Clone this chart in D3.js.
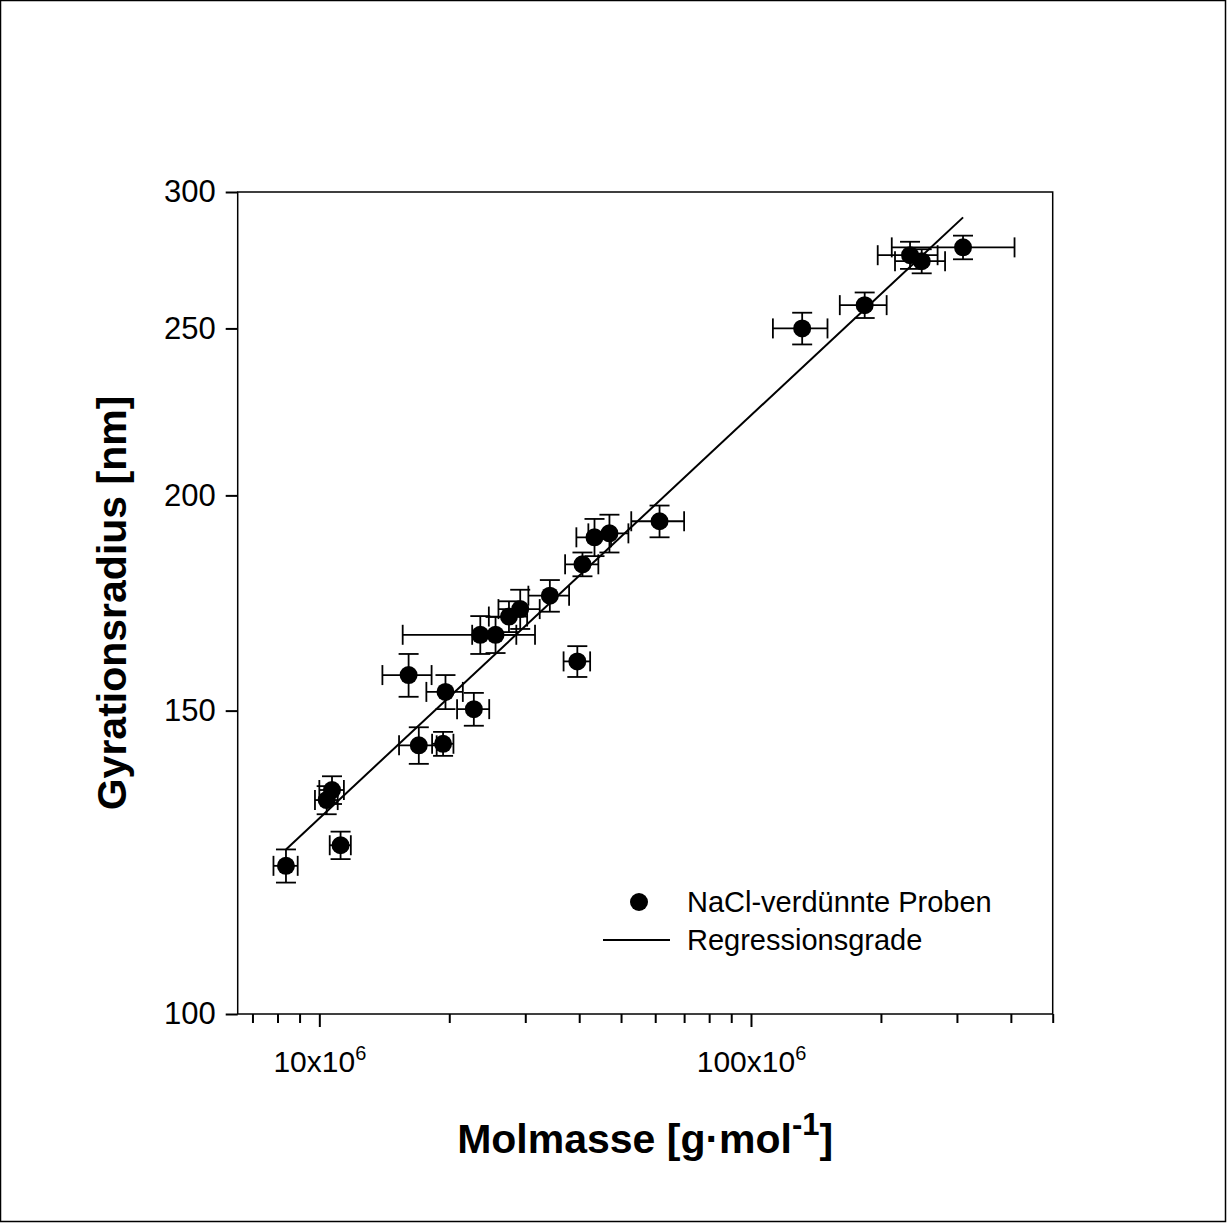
<!DOCTYPE html>
<html>
<head>
<meta charset="utf-8">
<script src="https://cdn.jsdelivr.net/npm/d3@7"></script>
<style>
  body { margin: 0; background: #fff; }
  text { font-family: Arial, "Liberation Sans", sans-serif; fill: #000; }
</style>
</head>
<body>
<div class="canvas"></div>
<script>
// values
const molmasse = [8.37e6, 11.2e6, 10.4e6, 10.7e6, 17.0e6, 19.35e6, 16.1e6, 19.6e6, 22.8e6, 23.6e6, 25.6e6, 27.5e6,
  29.2e6, 34.2e6, 39.6e6, 40.7e6, 43.4e6, 47.0e6, 61.4e6, 131.4e6, 183.4e6, 233.6e6, 248.6e6, 309.9e6];
const molmasseErr = [0.54e6, 0.63e6, 0.63e6, 0.7e6, 1.7e6, 1.1e6, 2.1e6, 1.9e6, 1.95e6, 8.0e6, 3.0e6, 2.8e6,
  3.2e6, 3.7e6, 2.8e6, 3.6e6, 4.0e6, 5.0e6, 8.6e6, 19e6, 22.8e6, 37e6, 33e6, 98e6];
const radius = [121.9, 125.3, 133.1, 134.9, 143.2, 143.5, 157.3, 153.8, 150.3, 166.0, 166.0, 170.1,
  171.8, 174.9, 160.2, 182.4, 189.1, 190.1, 193.2, 250.0, 257.9, 275.7, 273.5, 278.6];
const radiusErr = [2.7, 2.3, 2.5, 2.5, 3.5, 2.3, 4.5, 3.5, 3.3, 4.2, 4.0, 3.5,
  4.5, 3.7, 3.3, 2.9, 4.7, 4.8, 4.1, 5.3, 4.4, 5.0, 4.4, 4.4];

// regression line end points
const fitM = [8.37e6, 310e6];
const fitR = [124.6, 290];

const yTicks = [100, 150, 200, 250, 300];
const xMajor = [1e7, 1e8];
const xMajorLabels = ["10x10", "100x10"];
const xMinor = [7e6, 8e6, 9e6, 2e7, 3e7, 4e7, 5e7, 6e7, 7e7, 8e7, 9e7, 2e8, 3e8, 4e8, 5e8];

const legendLabels = ["NaCl-verdünnte Proben", "Regressionsgrade"];

const W = 1227, H = 1223;
const plot = { left: 237.7, right: 1052.7, top: 192, bottom: 1014 };

const x = d3.scaleLog().domain([6.47e6, 5e8]).range([plot.left, plot.right]);
const y = d3.scaleLog().domain([100, 300]).range([plot.bottom, plot.top]);

const svg = d3.select(".canvas").append("svg").attr("width", W).attr("height", H);

svg.append("rect").attr("x", 0.5).attr("y", 0.5).attr("width", W - 2).attr("height", H - 2)
  .attr("fill", "#fff").attr("stroke", "#000").attr("stroke-width", 1.5);

// frame
svg.append("rect")
  .attr("x", plot.left).attr("y", plot.top)
  .attr("width", plot.right - plot.left).attr("height", plot.bottom - plot.top)
  .attr("fill", "none").attr("stroke", "#000").attr("stroke-width", 1.5);

// y axis
const yAxis = d3.axisLeft(y).tickValues(yTicks).tickFormat(d3.format("d")).tickSize(12).tickPadding(10);
const gy = svg.append("g").attr("transform", `translate(${plot.left},0)`).call(yAxis);
gy.select(".domain").remove();
gy.selectAll("line").attr("stroke-width", 2);
gy.selectAll("text").attr("font-size", 31).style("font-family", "Arial, 'Liberation Sans', sans-serif");

// x axis, minor then major
const gxMinor = svg.append("g").attr("transform", `translate(0,${plot.bottom})`)
  .call(d3.axisBottom(x).tickValues(xMinor).tickFormat("").tickSize(9));
gxMinor.select(".domain").remove();
gxMinor.selectAll("line").attr("stroke-width", 2);

const gx = svg.append("g").attr("transform", `translate(0,${plot.bottom})`)
  .call(d3.axisBottom(x).tickValues(xMajor).tickFormat("").tickSize(13));
gx.select(".domain").remove();
gx.selectAll("line").attr("stroke-width", 2);

gx.selectAll(".tick").append("text")
  .attr("y", 58).attr("text-anchor", "middle").attr("font-size", 30)
  .each(function (d, i) {
    const t = d3.select(this);
    t.append("tspan").text(xMajorLabels[i]);
    t.append("tspan").attr("font-size", 20).attr("dy", -12).text("6");
  });

// error bars
const cap = 10;
const bars = svg.append("g").attr("stroke", "#000").attr("stroke-width", 1.8);
molmasse.forEach((m, i) => {
  const r = radius[i];
  const x0 = x(m - molmasseErr[i]), x1 = x(m + molmasseErr[i]);
  const y0 = y(r - radiusErr[i]), y1 = y(r + radiusErr[i]);
  const cx = x(m), cy = y(r);
  bars.append("line").attr("x1", x0).attr("x2", x1).attr("y1", cy).attr("y2", cy);
  bars.append("line").attr("x1", x0).attr("x2", x0).attr("y1", cy - cap).attr("y2", cy + cap);
  bars.append("line").attr("x1", x1).attr("x2", x1).attr("y1", cy - cap).attr("y2", cy + cap);
  bars.append("line").attr("x1", cx).attr("x2", cx).attr("y1", y0).attr("y2", y1);
  bars.append("line").attr("x1", cx - cap).attr("x2", cx + cap).attr("y1", y0).attr("y2", y0);
  bars.append("line").attr("x1", cx - cap).attr("x2", cx + cap).attr("y1", y1).attr("y2", y1);
});

// points
svg.append("g").selectAll("circle")
  .data(molmasse)
  .enter()
  .append("circle")
  .attr("cx", (d) => x(d))
  .attr("cy", (d, i) => y(radius[i]))
  .attr("r", 9)
  .attr("fill", "#000");

// regression line
svg.append("line")
  .attr("x1", x(fitM[0])).attr("y1", y(fitR[0]))
  .attr("x2", x(fitM[1])).attr("y2", y(fitR[1]))
  .attr("stroke", "#000").attr("stroke-width", 2);

// legend
svg.append("circle").attr("cx", 639).attr("cy", 902).attr("r", 9).attr("fill", "#000");
svg.append("line").attr("x1", 603).attr("x2", 670).attr("y1", 940).attr("y2", 940)
  .attr("stroke", "#000").attr("stroke-width", 2);
svg.append("text").attr("x", 687).attr("y", 912).attr("font-size", 29).text(legendLabels[0]);
svg.append("text").attr("x", 687).attr("y", 950).attr("font-size", 29).text(legendLabels[1]);

// axis titles
const xt = svg.append("text")
  .attr("x", (plot.left + plot.right) / 2).attr("y", 1153)
  .attr("text-anchor", "middle").attr("font-size", 41).attr("font-weight", "bold");
xt.append("tspan").text("Molmasse [g·mol");
xt.append("tspan").attr("font-size", 31).attr("dy", -18).text("-1");
xt.append("tspan").attr("dy", 18).text("]");

svg.append("text")
  .attr("transform", `translate(126,${(plot.top + plot.bottom) / 2}) rotate(-90)`)
  .attr("text-anchor", "middle").attr("font-size", 41).attr("font-weight", "bold")
  .text("Gyrationsradius [nm]");
</script>
</body>
</html>
